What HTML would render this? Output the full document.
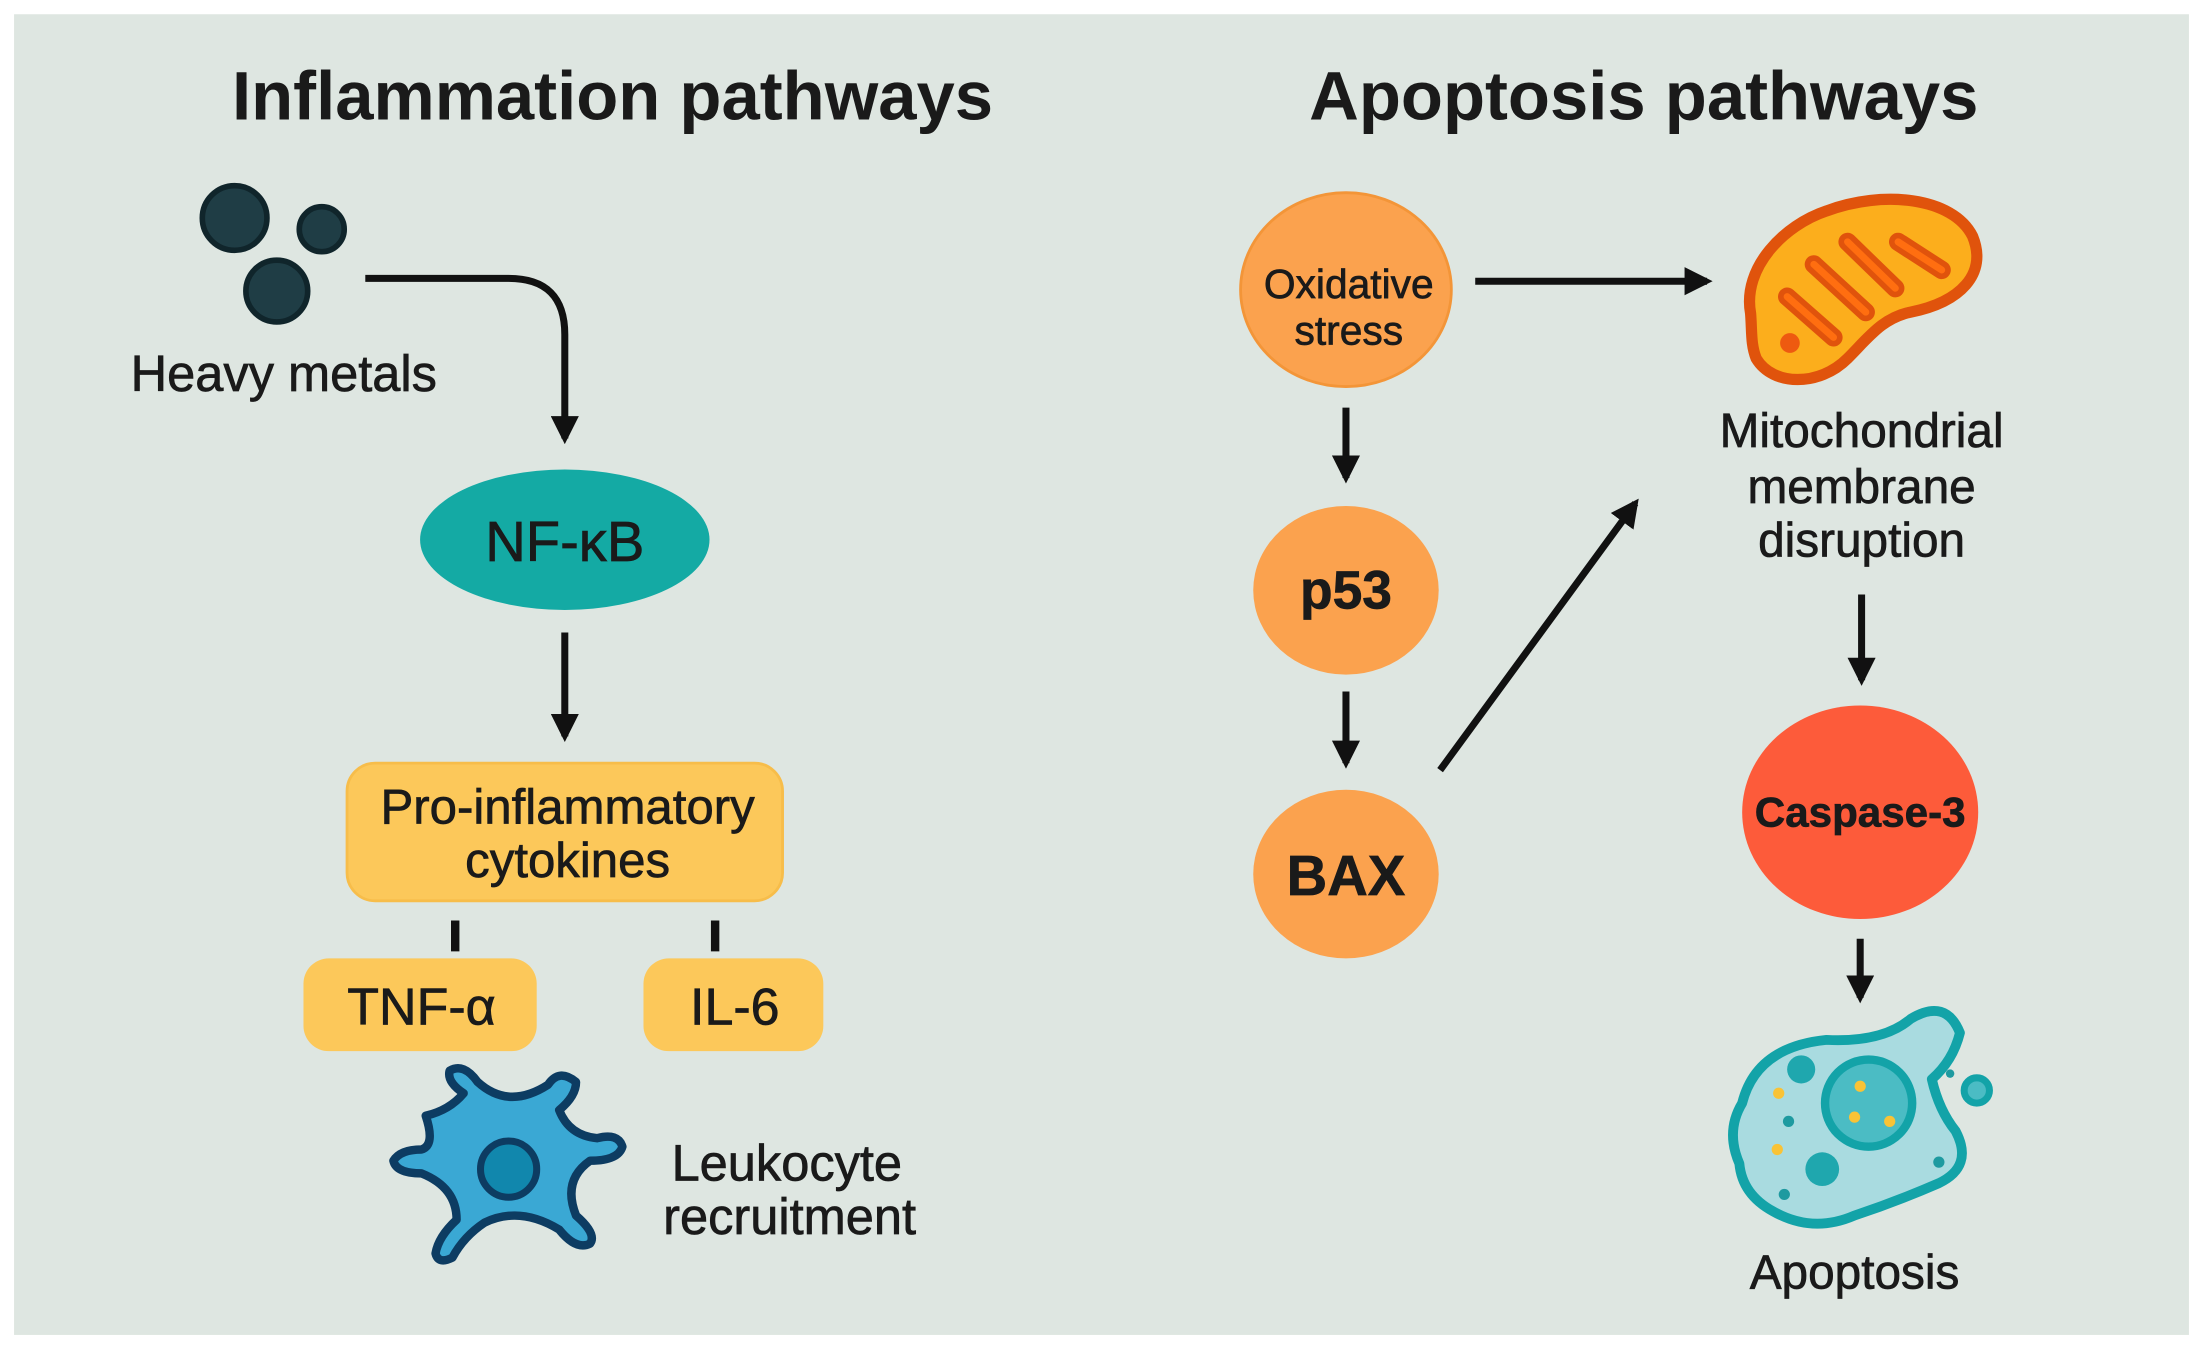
<!DOCTYPE html>
<html><head><meta charset="utf-8"><style>
html,body{margin:0;padding:0;background:#fff}
svg{display:block}
text{font-family:"Liberation Sans",sans-serif;fill:#1a1a1a;stroke:#1a1a1a;stroke-width:0.5}
</style></head><body>
<svg width="2203" height="1352" viewBox="0 0 1568 962" xmlns="http://www.w3.org/2000/svg">
<defs>
<marker id="ah" viewBox="0 0 10 10" refX="8" refY="5" markerWidth="4" markerHeight="4" orient="auto-start-reverse">
<path d="M0,0 L10,5 L0,10 z" fill="#111"/></marker>
</defs>
<rect x="0" y="0" width="1568" height="962" fill="#fff"/>
<rect x="10" y="10" width="1548" height="940" fill="#dee6e1"/>

<text x="436" y="85" font-size="49" font-weight="bold" text-anchor="middle" style="stroke-width:0">Inflammation pathways</text>
<text x="1170" y="85" font-size="49" font-weight="bold" text-anchor="middle" style="stroke-width:0">Apoptosis pathways</text>

<!-- heavy metals -->
<g fill="#1f3d45" stroke="#10252b" stroke-width="4">
<circle cx="167" cy="155" r="23"/><circle cx="229" cy="163" r="16"/><circle cx="197" cy="207" r="22"/>
</g>
<text x="202" y="278" font-size="36" text-anchor="middle">Heavy metals</text>
<path d="M260 198 H362 Q402 198 402 238 V312" fill="none" stroke="#111" stroke-width="5" marker-end="url(#ah)"/>

<ellipse cx="402" cy="384" rx="103" ry="50" fill="#14aaa4"/>
<text x="402" y="399" font-size="40" text-anchor="middle">NF-κB</text>
<line x1="402" y1="450" x2="402" y2="524" stroke="#111" stroke-width="5" marker-end="url(#ah)"/>

<rect x="247" y="543" width="310" height="98" rx="20" fill="#fcc85a" stroke="#f7bd4a" stroke-width="2"/>
<text x="404" y="586" font-size="35" text-anchor="middle">Pro-inflammatory</text>
<text x="404" y="624" font-size="35" text-anchor="middle">cytokines</text>
<line x1="324" y1="655" x2="324" y2="677" stroke="#111" stroke-width="6"/>
<line x1="509" y1="655" x2="509" y2="677" stroke="#111" stroke-width="6"/>
<rect x="216" y="682" width="166" height="66" rx="18" fill="#fcc85a"/>
<text x="300" y="729" font-size="37" text-anchor="middle">TNF-α</text>
<rect x="458" y="682" width="128" height="66" rx="18" fill="#fcc85a"/>
<text x="523" y="729" font-size="37" text-anchor="middle">IL-6</text>

<!-- leukocyte -->
<path d="M303 794 Q320 790 330 778 Q318 770 320 762 Q330 756 340 770 Q362 790 390 772 Q398 760 410 770 Q410 780 398 790 Q405 808 425 810 Q440 806 443 816 Q440 826 420 826 Q400 840 410 865 Q425 878 420 885 Q410 890 398 875 Q370 858 345 870 Q330 880 322 895 Q312 900 310 892 Q312 880 325 868 Q325 845 300 835 Q282 835 280 826 Q285 818 300 818 Q310 815 303 794 Z" fill="#3aa8d4" stroke="#0d3c62" stroke-width="6" stroke-linejoin="round"/>
<circle cx="362" cy="832" r="20" fill="#1187ad" stroke="#0d3c62" stroke-width="5"/>
<text x="478" y="840" font-size="36">Leukocyte</text>
<text x="472" y="878" font-size="36">recruitment</text>

<!-- apoptosis -->
<ellipse cx="958" cy="206" rx="75" ry="69" fill="#fba24e" stroke="#f39538" stroke-width="2"/>
<text x="960" y="212" font-size="29" text-anchor="middle">Oxidative</text>
<text x="960" y="245" font-size="29" text-anchor="middle">stress</text>
<line x1="1050" y1="200" x2="1215" y2="200" stroke="#111" stroke-width="5" marker-end="url(#ah)"/>
<line x1="958" y1="290" x2="958" y2="340" stroke="#111" stroke-width="5" marker-end="url(#ah)"/>
<ellipse cx="958" cy="420" rx="66" ry="60" fill="#fba24e"/>
<text x="958" y="433" font-size="38" font-weight="bold" text-anchor="middle">p53</text>
<line x1="958" y1="492" x2="958" y2="543" stroke="#111" stroke-width="5" marker-end="url(#ah)"/>
<ellipse cx="958" cy="622" rx="66" ry="60" fill="#fba24e"/>
<text x="958" y="637" font-size="40" font-weight="bold" text-anchor="middle">BAX</text>
<line x1="1025" y1="548" x2="1164" y2="358" stroke="#111" stroke-width="5" marker-end="url(#ah)"/>

<!-- mitochondria -->
<path d="M1246 223 C1240 190 1270 160 1300 150 C1340 135 1390 140 1404 168 C1415 195 1395 215 1360 222 C1340 226 1330 240 1315 255 C1295 275 1262 275 1250 255 C1246 245 1247 235 1246 223 Z" fill="#fcae1c" stroke="#e0530c" stroke-width="8" stroke-linejoin="round"/>
<g stroke="#e0530c" stroke-width="13" stroke-linecap="round">
<line x1="1272" y1="211" x2="1305" y2="240"/><line x1="1291" y1="188" x2="1328" y2="222"/><line x1="1315" y1="172" x2="1349" y2="205"/><line x1="1351" y1="172" x2="1382" y2="192"/>
</g>
<g stroke="#ff6e10" stroke-width="5" stroke-linecap="round">
<line x1="1272" y1="211" x2="1305" y2="240"/><line x1="1291" y1="188" x2="1328" y2="222"/><line x1="1315" y1="172" x2="1349" y2="205"/><line x1="1351" y1="172" x2="1382" y2="192"/>
</g>
<circle cx="1274" cy="244" r="7" fill="#ee5a10"/>
<text x="1325" y="318" font-size="34" text-anchor="middle">Mitochondrial</text>
<text x="1325" y="358" font-size="34" text-anchor="middle">membrane</text>
<text x="1325" y="396" font-size="34" text-anchor="middle">disruption</text>
<line x1="1325" y1="423" x2="1325" y2="484" stroke="#111" stroke-width="5" marker-end="url(#ah)"/>
<ellipse cx="1324" cy="578" rx="84" ry="76" fill="#fd5b3a"/>
<text x="1324" y="588" font-size="30" font-weight="bold" text-anchor="middle">Caspase-3</text>
<line x1="1324" y1="668" x2="1324" y2="710" stroke="#111" stroke-width="5" marker-end="url(#ah)"/>

<!-- apoptotic cell -->
<g>
<path d="M1240 785 Q1250 745 1300 740 Q1340 742 1360 725 Q1385 710 1395 735 Q1390 755 1375 768 Q1380 790 1392 805 Q1405 830 1380 842 Q1350 855 1320 865 Q1290 878 1262 862 Q1240 850 1238 828 Q1228 805 1240 785 Z" fill="#a9dbe0" stroke="#13a3a8" stroke-width="7" stroke-linejoin="round"/>
<circle cx="1330" cy="785" r="31" fill="#4bbcc4" stroke="#13a3a8" stroke-width="6"/>
<circle cx="1324" cy="773" r="4" fill="#f9c336"/><circle cx="1320" cy="795" r="4" fill="#f9c336"/><circle cx="1345" cy="798" r="4" fill="#f9c336"/>
<circle cx="1282" cy="761" r="10" fill="#1fa7ae"/><circle cx="1297" cy="832" r="12" fill="#1fa7ae"/>
<circle cx="1265" cy="818" r="4" fill="#f9c336"/><circle cx="1266" cy="778" r="4" fill="#f9c336"/>
<circle cx="1388" cy="764" r="3" fill="#1e9aa0"/><circle cx="1273" cy="798" r="4" fill="#1e9aa0"/><circle cx="1380" cy="827" r="4" fill="#1e9aa0"/><circle cx="1270" cy="850" r="4" fill="#1e9aa0"/>
<circle cx="1407" cy="776" r="9" fill="#4bbcc4" stroke="#13a3a8" stroke-width="5"/>
</g>
<text x="1320" y="917" font-size="34" text-anchor="middle">Apoptosis</text>
</svg>
</body></html>
